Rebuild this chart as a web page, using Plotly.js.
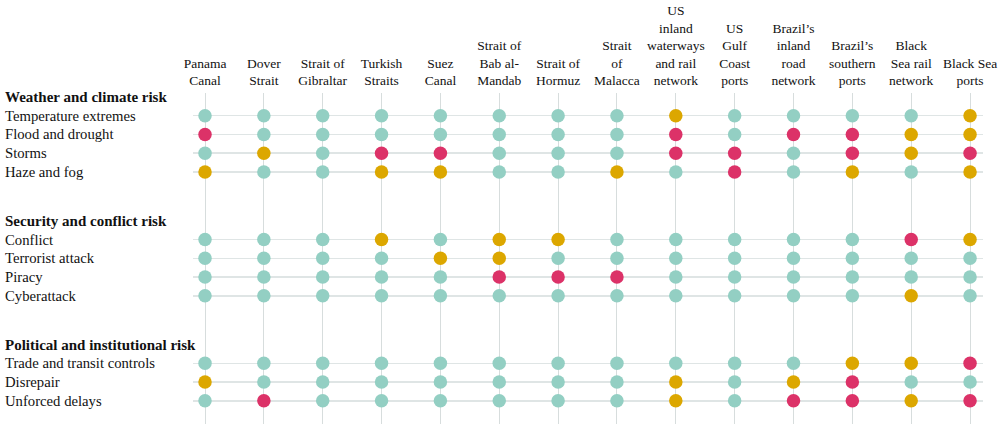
<!DOCTYPE html>
<html>
<head>
<meta charset="utf-8">
<script src="https://cdn.plot.ly/plotly-3.0.1.min.js"></script>
<style>html,body{margin:0;padding:0;background:#fff;}#chart{width:1005px;height:430px;}</style>
</head>
<body>
<div id="chart"></div>
<script>
// Columns (locations)
const locations = [
  "Panama<br>Canal", "Dover<br>Strait", "Strait of<br>Gibraltar", "Turkish<br>Straits",
  "Suez<br>Canal", "Strait of<br>Bab al-<br>Mandab", "Strait of<br>Hormuz", "Strait<br>of<br>Malacca",
  "US<br>inland<br>waterways<br>and rail<br>network", "US<br>Gulf<br>Coast<br>ports",
  "Brazil’s<br>inland<br>road<br>network", "Brazil’s<br>southern<br>ports",
  "Black<br>Sea rail<br>network", "Black Sea<br>ports"
];

// Groups and risks
const groups = ["Weather and climate risk", "Security and conflict risk", "Political and institutional risk"];
const weatherRisks = ["Temperature extremes", "Flood and drought", "Storms", "Haze and fog"];
const securityRisks = ["Conflict", "Terrorist attack", "Piracy", "Cyberattack"];
const politicalRisks = ["Trade and transit controls", "Disrepair", "Unforced delays"];

// Risk levels per location: L = low, M = medium, H = high
const temperatureExtremes = ["L","L","L","L","L","L","L","L","M","L","L","L","L","M"];
const floodAndDrought     = ["H","L","L","L","L","L","L","L","H","L","H","H","M","M"];
const storms              = ["L","M","L","H","H","L","L","L","H","H","L","H","M","H"];
const hazeAndFog          = ["M","L","L","M","M","L","L","M","L","H","L","M","L","M"];
const conflict            = ["L","L","L","M","L","M","M","L","L","L","L","L","H","M"];
const terroristAttack     = ["L","L","L","L","M","M","L","L","L","L","L","L","L","L"];
const piracy              = ["L","L","L","L","L","H","H","H","L","L","L","L","L","L"];
const cyberattack         = ["L","L","L","L","L","L","L","L","L","L","L","L","M","L"];
const tradeControls       = ["L","L","L","L","L","L","L","L","L","L","L","M","M","H"];
const disrepair           = ["M","L","L","L","L","L","L","L","M","L","M","H","L","L"];
const unforcedDelays      = ["L","H","L","L","L","L","L","L","M","L","H","H","M","H"];

const levelColors = {L: "#93cfc3", M: "#dca700", H: "#dc3268"};

const groupRows = [
  [weatherRisks, [temperatureExtremes, floodAndDrought, storms, hazeAndFog]],
  [securityRisks, [conflict, terroristAttack, piracy, cyberattack]],
  [politicalRisks, [tradeControls, disrepair, unforcedDelays]]
];

const GROUP_STEP = 6.6;
const xs = [], ys = [], cs = [];
const rowYs = [];
const annotations = [];
const font = "Liberation Serif, DejaVu Serif, serif";
const labelX = -190 / 790;

groupRows.forEach(([names, rows], g) => {
  const base = g * GROUP_STEP;
  annotations.push({
    xref: "paper", yref: "y", x: labelX, y: base, xanchor: "left", yanchor: "middle",
    text: "<b>" + groups[g] + "</b>", showarrow: false,
    font: {family: font, size: 15, color: "#111"}
  });
  rows.forEach((row, r) => {
    const y = base + r + 1;
    rowYs.push(y);
    annotations.push({
      xref: "paper", yref: "y", x: labelX, y: y, xanchor: "left", yanchor: "middle",
      text: names[r], showarrow: false,
      font: {family: font, size: 14.7, color: "#111"}
    });
    row.forEach((lvl, c) => {
      xs.push(c); ys.push(y); cs.push(levelColors[lvl]);
    });
  });
});

const trace = {
  type: "scatter", mode: "markers", x: xs, y: ys,
  marker: {size: 13.5, color: cs, line: {width: 0}},
  hoverinfo: "skip", showlegend: false, cliponaxis: false
};

const layout = {
  width: 1005, height: 430,
  margin: {l: 193, r: 22, t: 93, b: 6},
  paper_bgcolor: "#fff", plot_bgcolor: "#fff",
  showlegend: false,
  xaxis: {
    side: "top", range: [-0.204, 13.22],
    tickmode: "array", tickvals: locations.map((_, i) => i), ticktext: locations,
    tickfont: {family: font, size: 13.5, color: "#111"},
    showgrid: true, gridcolor: "#d7dddd", gridwidth: 1,
    zeroline: false, showline: false, ticks: "", ticklabelstandoff: 4,
    fixedrange: true
  },
  yaxis: {
    range: [17.44, -0.213],
    tickmode: "array", tickvals: rowYs, showticklabels: false,
    showgrid: true, gridcolor: "#dfe5e5", gridwidth: 1.5,
    zeroline: false, showline: false, ticks: "", fixedrange: true
  },
  annotations: annotations,
  hovermode: false
};

Plotly.newPlot("chart", [trace], layout, {displayModeBar: false, staticPlot: true});
</script>
</body>
</html>
